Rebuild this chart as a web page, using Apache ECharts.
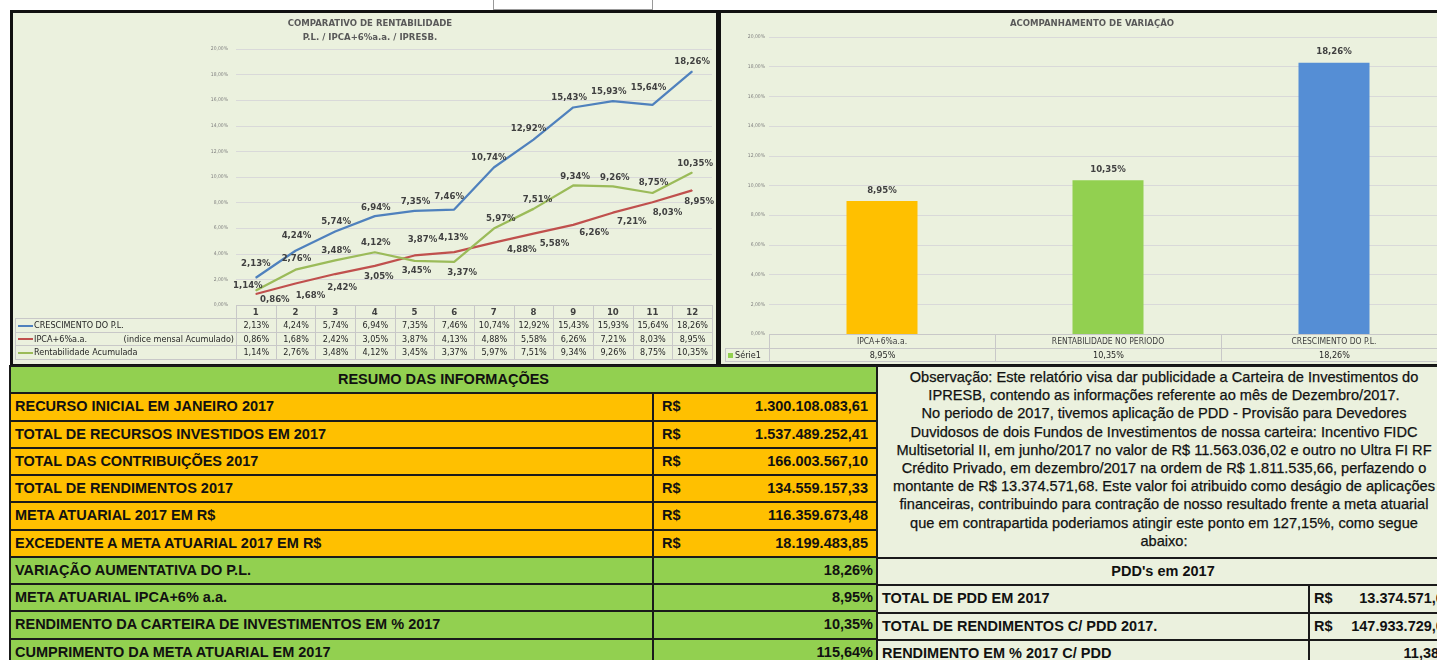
<!DOCTYPE html>
<html lang="pt-BR">
<head>
<meta charset="utf-8">
<title>Relatório IPRESB 2017</title>
<script src="https://cdn.jsdelivr.net/npm/echarts@6.0.0/dist/echarts.min.js"></script>
<style>
html, body { margin:0; padding:0; width:1437px; height:660px; overflow:hidden; background:#fff; }
body { position:relative; font-family:"Liberation Sans", Arial, sans-serif; }
.painel { position:absolute; box-sizing:border-box; background:#EBF1DE; border:3px solid #111; }
#painel1 { left:10px; top:10px; width:709px; height:357px; }
#painel2 { left:718px; top:10px; width:740px; height:357px; }
#caixinha { position:absolute; left:493px; top:-1px; width:158px; height:9px; border:1px solid #999; background:#fff; }
.chart { position:absolute; }
#chart1 { left:13px; top:13px; width:703px; height:351px; }
#chart2 { left:721px; top:13px; width:740px; height:351px; }

.dt { position:absolute; border-collapse:collapse; table-layout:fixed;
      font-family:"Liberation Sans Narrow","DejaVu Sans Condensed",sans-serif; font-size:9px; color:#262626; }
.dt td { border:1px solid #C8C8C8; padding:0; text-align:center; white-space:nowrap; overflow:hidden; }
.dt td.rot { text-align:left; padding-left:2px; }
.dt td.vazio { border-left:none; border-top:none; border-bottom:1px solid #C8C8C8; }
.traco { display:inline-block; width:15px; height:2px; vertical-align:middle; margin-right:1px; }
.quad { display:inline-block; width:5px; height:5px; background:#92D050; vertical-align:middle; margin-right:2px; }
.dir { float:right; padding-right:2px; }

.tab { position:absolute; box-sizing:border-box; border-left:2px solid #1a1a1a; border-right:2px solid #1a1a1a; }
.linha { display:flex; box-sizing:border-box; height:27.25px; border-top:2px solid #1a1a1a;
         font-weight:bold; font-size:14.5px; color:#111; line-height:25px; white-space:nowrap; overflow:hidden; }
.lar { background:#FFC000; }
.ver { background:#92D050; }
.cla { background:#EBF1DE; }
.c1 { box-sizing:border-box; border-right:2px solid #1a1a1a; padding-left:4px; overflow:hidden; }
.c2 { flex:1; display:flex; justify-content:space-between; padding:0 8px 0 8px; }
.c2p { flex:1; text-align:right; padding-right:3px; }
.centro { flex:1; text-align:center; }
#obs { box-sizing:border-box; width:572px; height:192px; border-top:2px solid #1a1a1a; background:#EBF1DE;
       font-size:14.6px; line-height:18.2px; color:#111; text-align:center; white-space:nowrap; padding-top:1px; overflow:hidden;
       -webkit-text-stroke:0.25px #111; }
</style>
</head>
<body>
<div id="caixinha"></div>
<div class="painel" id="painel1"></div>
<div class="painel" id="painel2"></div>
<div class="chart" id="chart1"></div>
<div class="chart" id="chart2"></div>
<table class="dt" id="tab1"></table>
<table class="dt" id="tab2"></table>
<div class="tab" id="resumo" style="left:9px; top:365px; width:869px;"></div>
<div class="tab" id="observ" style="left:876px; top:365px; width:582px; border-right:none; background:#EBF1DE;"></div>

<script>
// meses do ano
var meses = ['1','2','3','4','5','6','7','8','9','10','11','12'];
// acumulado no ano (%)
var crescimentoPL = [2.13, 4.24, 5.74, 6.94, 7.35, 7.46, 10.74, 12.92, 15.43, 15.93, 15.64, 18.26];
var ipcaMeta      = [0.86, 1.68, 2.42, 3.05, 3.87, 4.13, 4.88, 5.58, 6.26, 7.21, 8.03, 8.95];
var rentabilidade = [1.14, 2.76, 3.48, 4.12, 3.45, 3.37, 5.97, 7.51, 9.34, 9.26, 8.75, 10.35];

// grafico de barras
var categoriasVar = ['IPCA+6%a.a.', 'RENTABILIDADE NO PERIODO', 'CRESCIMENTO DO P.L.'];
var valoresVar = [8.95, 10.35, 18.26];

// tabelas
var resumoReais = [
  ['RECURSO INICIAL EM JANEIRO 2017', '1.300.108.083,61'],
  ['TOTAL DE RECURSOS INVESTIDOS EM 2017', '1.537.489.252,41'],
  ['TOTAL DAS CONTRIBUIÇÕES 2017', '166.003.567,10'],
  ['TOTAL DE RENDIMENTOS 2017', '134.559.157,33'],
  ['META ATUARIAL 2017 EM R$', '116.359.673,48'],
  ['EXCEDENTE A META ATUARIAL 2017 EM R$', '18.199.483,85']
];
var resumoPerc = [
  ['VARIAÇÃO AUMENTATIVA DO P.L.', '18,26%'],
  ['META ATUARIAL IPCA+6% a.a.', '8,95%'],
  ['RENDIMENTO DA CARTEIRA DE INVESTIMENTOS EM % 2017', '10,35%'],
  ['CUMPRIMENTO DA META ATUARIAL EM 2017', '115,64%']
];
var textoObs = [
  'Observação: Este relatório visa dar publicidade a Carteira de Investimentos do',
  'IPRESB, contendo as informações referente ao mês de Dezembro/2017.',
  'No periodo de 2017, tivemos aplicação de PDD - Provisão para Devedores',
  'Duvidosos de dois Fundos de Investimentos de nossa carteira: Incentivo FIDC',
  'Multisetorial II, em junho/2017 no valor de R$ 11.563.036,02 e outro no Ultra FI RF',
  'Crédito Privado, em dezembro/2017 na ordem de R$ 1.811.535,66, perfazendo o',
  'montante de R$ 13.374.571,68. Este valor foi atribuido como deságio de aplicações',
  'financeiras, contribuindo para contração de nosso resultado frente a meta atuarial',
  'que em contrapartida poderiamos atingir este ponto em 127,15%, como segue',
  'abaixo:'
];
var pddLinhas = [
  ['TOTAL DE PDD EM 2017', 'R$', '13.374.571,68'],
  ['TOTAL DE RENDIMENTOS C/ PDD 2017.', 'R$', '147.933.729,01'],
  ['RENDIMENTO EM % 2017 C/ PDD', '', '11,38%']
];

// estilos
var FONTE = '"Liberation Sans Narrow", "DejaVu Sans Condensed", sans-serif';
var corAzul = '#4F81BD', corVermelha = '#C0504D', corVerde = '#9BBB59';
var coresVar = ['#FFC000', '#92D050', '#558ED5'];
var offAzul = [[0,-14],[1,-15],[1,-10],[1,-9],[1,-9],[-5,-13],[-5,-10],[-5,-11],[-4,-10],[-4,-10],[-4,-17],[0,-10]];
var offVerm = [[19,6],[15,12],[7,14],[4,11],[8,-16],[-1,-15],[28,7],[21,10],[21,8],[19,9],[15,10],[7,11]];
var offVerde = [[-8,-5],[1,-11],[1,-10],[1,-10],[2,10],[8,11],[7,-10],[4,-9],[2,-9],[2,-9],[1,-10],[3,-9]];

function pct(v){ return Number(v).toFixed(2).replace('.', ',') + '%'; }

function serieLinha(nome, valores, cor, offs){
  return {
    name: nome,
    type: 'line',
    data: valores.map(function(v, i){ return { value: v, label: { offset: offs[i] } }; }),
    symbol: 'circle',
    symbolSize: 1,
    lineStyle: { color: cor, width: 2.25 },
    itemStyle: { color: cor },
    label: {
      show: true, position: 'inside',
      formatter: function(p){ return pct(p.value); },
      fontFamily: FONTE, fontSize: 9.5, fontWeight: 'bold', color: '#404040'
    },
    emphasis: { disabled: true }
  };
}

var chart1 = echarts.init(document.getElementById('chart1'));
chart1.setOption({
  animation: false,
  title: {
    text: 'COMPARATIVO DE RENTABILIDADE\nP.L. / IPCA+6%a.a. / IPRESB.',
    left: 352, top: -1, textAlign: 'center',
    textStyle: { fontFamily: FONTE, fontSize: 9.5, fontWeight: 'bold', color: '#595959', lineHeight: 14 }
  },
  grid: { left: 223, top: 36, width: 476, height: 256, outerBoundsMode: 'none' },
  xAxis: {
    type: 'category', data: meses,
    axisLine: { show: false }, axisTick: { show: false },
    axisLabel: { interval: 0, margin: 3, fontFamily: FONTE, fontSize: 9.5, fontWeight: 'bold', color: '#404040' }
  },
  yAxis: {
    type: 'value', min: 0, max: 20, interval: 2,
    axisLine: { show: false }, axisTick: { show: false },
    axisLabel: { formatter: pct, fontFamily: FONTE, fontSize: 5, color: '#7F7F7F', margin: 8 },
    splitLine: { lineStyle: { color: '#D9D9D9', width: 1 } }
  },
  series: [
    serieLinha('CRESCIMENTO DO P.L.', crescimentoPL, corAzul, offAzul),
    serieLinha('IPCA+6%a.a.', ipcaMeta, corVermelha, offVerm),
    serieLinha('Rentabilidade Acumulada', rentabilidade, corVerde, offVerde)
  ]
});

var chart2 = echarts.init(document.getElementById('chart2'));
chart2.setOption({
  animation: false,
  title: {
    text: 'ACOMPANHAMENTO DE VARIAÇÃO',
    left: 366, top: 1, textAlign: 'center',
    textStyle: { fontFamily: FONTE, fontSize: 9.5, fontWeight: 'bold', color: '#595959' }
  },
  grid: { left: 48, top: 24, width: 678, height: 297, outerBoundsMode: 'none' },
  xAxis: {
    type: 'category', data: categoriasVar,
    axisLine: { show: false }, axisTick: { show: false },
    axisLabel: { interval: 0, margin: 3, fontFamily: FONTE, fontSize: 8.5, color: '#404040' }
  },
  yAxis: {
    type: 'value', min: 0, max: 20, interval: 2,
    axisLine: { show: false }, axisTick: { show: false },
    axisLabel: { formatter: pct, fontFamily: FONTE, fontSize: 5, color: '#7F7F7F', margin: 4 },
    splitLine: { lineStyle: { color: '#D9D9D9', width: 1 } }
  },
  series: [{
    name: 'Série1', type: 'bar', barWidth: 71,
    data: valoresVar.map(function(v, i){ return { value: v, itemStyle: { color: coresVar[i] } }; }),
    label: {
      show: true, position: 'top', distance: 6,
      formatter: function(p){ return pct(p.value); },
      fontFamily: FONTE, fontSize: 9.5, fontWeight: 'bold', color: '#404040'
    },
    emphasis: { disabled: true }
  }]
});

// tabela de dados do grafico 1
(function(){
  var t = document.getElementById('tab1');
  t.style.left = '15px'; t.style.top = '305px'; t.style.width = '697px';
  var h = '<colgroup><col style="width:221px">';
  meses.forEach(function(){ h += '<col style="width:39.67px">'; });
  h += '</colgroup><tr style="height:13px"><td class="vazio"></td>';
  meses.forEach(function(){ h += '<td></td>'; });
  h += '</tr>';
  var linhas = [
    [crescimentoPL, corAzul, 'CRESCIMENTO DO P.L.', ''],
    [ipcaMeta, corVermelha, 'IPCA+6%a.a.', '(indice mensal Acumulado)'],
    [rentabilidade, corVerde, 'Rentabilidade Acumulada', '']
  ];
  linhas.forEach(function(l){
    h += '<tr style="height:13.5px"><td class="rot"><span class="traco" style="background:' + l[1] + '"></span>' + l[2] +
         (l[3] ? '<span class="dir">' + l[3] + '</span>' : '') + '</td>';
    l[0].forEach(function(v){ h += '<td>' + pct(v) + '</td>'; });
    h += '</tr>';
  });
  t.innerHTML = h;
})();

// tabela de dados do grafico 2
(function(){
  var t = document.getElementById('tab2');
  t.style.left = '725px'; t.style.top = '334px'; t.style.width = '722px';
  var h = '<colgroup><col style="width:44px"><col style="width:226px"><col style="width:226px"><col style="width:226px"></colgroup>';
  h += '<tr style="height:13.5px"><td class="vazio"></td>';
  categoriasVar.forEach(function(){ h += '<td></td>'; });
  h += '</tr><tr style="height:13.5px"><td class="rot"><span class="quad"></span>Série1</td>';
  valoresVar.forEach(function(v){ h += '<td>' + pct(v) + '</td>'; });
  h += '</tr>';
  t.innerHTML = h;
})();

// resumo das informacoes
(function(){
  var h = '<div class="linha ver"><div class="centro">RESUMO DAS INFORMAÇÕES</div></div>';
  resumoReais.forEach(function(r){
    h += '<div class="linha lar"><div class="c1" style="width:643px">' + r[0] + '</div>' +
         '<div class="c2"><span>R$</span><span>' + r[1] + '</span></div></div>';
  });
  resumoPerc.forEach(function(r){
    h += '<div class="linha ver"><div class="c1" style="width:643px">' + r[0] + '</div>' +
         '<div class="c2p">' + r[1] + '</div></div>';
  });
  document.getElementById('resumo').innerHTML = h;
})();

// observacao e PDD
(function(){
  var h = '<div id="obs">' + textoObs.join('<br>') + '</div>';
  h += '<div class="linha cla"><div class="centro" style="padding-right:10px">PDD\'s em 2017</div></div>';
  pddLinhas.forEach(function(r){
    h += '<div class="linha cla"><div class="c1" style="width:432px">' + r[0] + '</div>' +
         '<div class="c2" style="padding:0 6px 0 4px"><span>' + r[1] + '</span><span>' + r[2] + '</span></div></div>';
  });
  document.getElementById('observ').innerHTML = h;
})();
</script>
</body>
</html>
